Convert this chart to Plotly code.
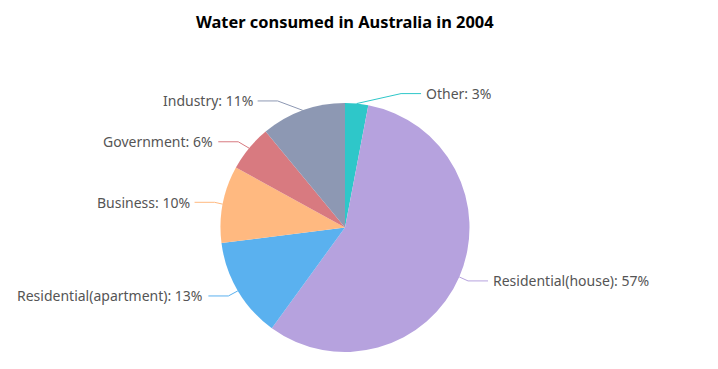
import math
import plotly.graph_objects as go

title_text = "Water consumed in Australia in 2004"
labels = ["Other", "Residential(house)", "Residential(apartment)", "Business", "Government", "Industry"]
values = [3, 57, 13, 10, 6, 11]
colors = ["#2ec7c9", "#b6a2de", "#5ab1ef", "#ffb980", "#d87a80", "#8d98b3"]

# The page body has an 8px margin, so the figure is 8px smaller and all
# positions below (given in window pixels) are shifted by that offset.
OFF = 8
W, H = 718 - OFF, 369 - OFF
CX, CY, R = 345, 227.5, 124.5
L1, L2, GAP = 10, 20, 3
FONT = "Noto Sans"


def px(x):
    return (x - OFF) / W


def py(y):
    return 1 - (y - OFF) / H


fig = go.Figure(
    go.Pie(
        labels=labels,
        values=values,
        sort=False,
        direction="clockwise",
        rotation=0,
        marker=dict(colors=colors, line=dict(width=0)),
        textinfo="none",
        hoverinfo="label+percent",
        showlegend=False,
        domain=dict(x=[px(CX - R), px(CX + R)], y=[py(CY + R), py(CY - R)]),
    )
)

total = sum(values)
annotations = []
shapes = []
cum = 0
for lab, val, col in zip(labels, values, colors):
    mid = (cum + val / 2) / total * 2 * math.pi
    cum += val
    dx, dy = math.sin(mid), -math.cos(mid)
    x1, y1 = CX + R * dx, CY + R * dy
    ly = CY + (R + L1) * dy
    d = 1 if dx >= 0 else -1
    rt = R + L1 + L2 + 1
    tx = CX + d * math.sqrt(max(rt * rt - (ly - CY) ** 2, 0))
    x3 = tx - d * GAP
    x2 = x3 - d * L2
    shapes.append(dict(
        type="path", xref="paper", yref="paper",
        path=f"M {px(x1)},{py(y1)} L {px(x2)},{py(ly)} L {px(x3)},{py(ly)}",
        line=dict(color=col, width=1),
    ))
    pct = round(val / total * 100)
    annotations.append(dict(
        x=px(tx), y=py(ly), xref="paper", yref="paper",
        text=f"{lab}: {pct}%", showarrow=False,
        xanchor="left" if d > 0 else "right", yanchor="middle",
        font=dict(family=FONT, size=14, color="#555555"),
    ))

annotations.append(dict(
    x=px(CX), y=py(8), xref="paper", yref="paper",
    text=f"<b>{title_text}</b>", showarrow=False,
    xanchor="center", yanchor="top",
    font=dict(family=FONT, size=16.4, color="#000000"),
))

fig.update_layout(
    width=W, height=H,
    margin=dict(l=0, r=0, t=0, b=0),
    paper_bgcolor="white", plot_bgcolor="white",
    annotations=annotations, shapes=shapes,
)

fig.write_html("out.html")
